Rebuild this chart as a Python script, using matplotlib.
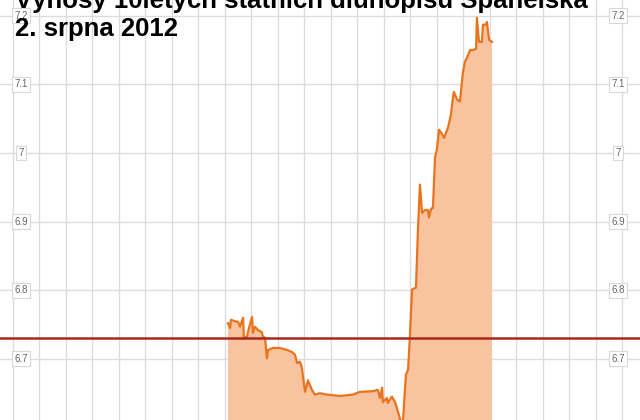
import matplotlib.pyplot as plt

# yield of Spanish 10y bonds, 2 Aug 2012 (x in grid steps)
time_x = [8.12, 8.20, 8.23, 8.38, 8.50, 8.57, 8.69, 8.72, 8.84, 8.87, 9.03, 9.06,
          9.14, 9.25, 9.40, 9.44, 9.52, 9.59, 9.63, 9.82, 10.08, 10.35, 10.54,
          10.65, 10.73, 10.84, 10.91, 11.03, 11.14, 11.29, 11.40, 11.59, 11.86,
          12.35, 12.84, 13.10, 13.60, 13.78, 13.86, 13.94, 13.97, 14.12, 14.16,
          14.31, 14.43, 14.54, 14.65, 14.73, 14.84, 14.92, 14.99, 15.07, 15.22,
          15.29, 15.37, 15.45, 15.56, 15.67, 15.71, 15.79, 15.86, 15.94, 16.01,
          16.09, 16.20, 16.28, 16.43, 16.54, 16.62, 16.65, 16.77, 16.88, 16.99,
          17.07, 17.18, 17.26, 17.37, 17.49, 17.52, 17.60, 17.71, 17.75, 17.86,
          17.90, 17.98, 18.09]
yields = [6.752, 6.745, 6.757, 6.755, 6.754, 6.747, 6.760, 6.732, 6.732, 6.739,
          6.761, 6.738, 6.747, 6.742, 6.739, 6.732, 6.731, 6.701, 6.713, 6.716,
          6.716, 6.713, 6.710, 6.706, 6.694, 6.696, 6.687, 6.652, 6.669, 6.655,
          6.648, 6.650, 6.648, 6.646, 6.648, 6.652, 6.653, 6.655, 6.643, 6.658,
          6.637, 6.643, 6.636, 6.645, 6.637, 6.623, 6.608, 6.611, 6.677, 6.684,
          6.732, 6.801, 6.804, 6.884, 6.954, 6.913, 6.917, 6.917, 6.906, 6.919,
          6.920, 6.994, 7.005, 7.034, 7.028, 7.022, 7.037, 7.056, 7.082, 7.089,
          7.078, 7.075, 7.117, 7.133, 7.142, 7.150, 7.150, 7.152, 7.197, 7.162,
          7.162, 7.187, 7.187, 7.191, 7.165, 7.162]

ref_level = 6.731
y_ticks = [6.7, 6.8, 6.9, 7.0, 7.1, 7.2]
y_labels = ["6.7", "6.8", "6.9", "7", "7.1", "7.2"]

plt.rcParams['font.family'] = ['Liberation Sans', 'DejaVu Sans']

fig = plt.figure(figsize=(6.4, 4.2), dpi=100)
ax = fig.add_axes([0, 0, 1, 1])
ax.set_xlim(-0.49, 23.68)
ax.set_ylim(6.611, 7.223)

for gx in range(24):
    ax.axvline(gx, color="#dcdcdc", lw=1, zorder=0)
for gy in y_ticks:
    ax.axhline(gy, color="#dcdcdc", lw=1, zorder=0)

ax.fill_between(time_x, yields, 6.5, color="#f9c3a0", lw=0, zorder=1)
ax.plot(time_x, yields, color="#e8741e", lw=1.6, zorder=2)
ax.axhline(ref_level, color="#a8281e", lw=1.8, zorder=3)

box = dict(boxstyle="square,pad=0.25", fc="white", ec="#d8d8d8", lw=0.8)
for gy, lab in zip(y_ticks, y_labels):
    ax.text(0.3, gy, lab, fontsize=7, color="#666666", ha="center", va="center",
            bbox=box, zorder=4)
    ax.text(22.85, gy, lab, fontsize=7, color="#666666", ha="center", va="center",
            bbox=box, zorder=4)

ax.set_xticks([])
ax.set_yticks([])
for s in ax.spines.values():
    s.set_visible(False)

fig.text(15 / 640, 1 - 8 / 420, "Výnosy 10letých státních dluhopisů Španělska",
         fontsize=18.5, fontweight="bold", va="baseline", ha="left", zorder=5)
fig.text(15 / 640, 1 - 36 / 420, "2. srpna 2012",
         fontsize=18.5, fontweight="bold", va="baseline", ha="left", zorder=5)

fig.savefig("out.png", dpi=100)
